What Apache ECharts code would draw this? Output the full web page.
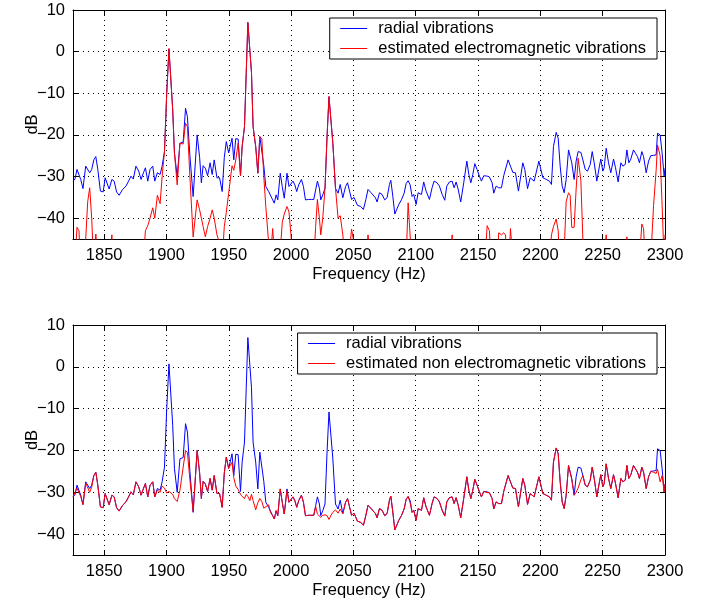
<!DOCTYPE html>
<html>
<head>
<meta charset="utf-8">
<script src="https://cdn.jsdelivr.net/npm/echarts@6/dist/echarts.min.js"></script>
<style>
  html, body { margin: 0; padding: 0; background: #fff; }
  #chart { width: 701px; height: 602px; }
</style>
</head>
<body>
<div id="chart"></div>
<script>
// Frequency samples (Hz) shared by all spectra
const freq = [
  1825.0,1826.6,1828.2,1829.8,1831.2,1833.0,1835.2,1836.8,1838.4,1840.0,
  1841.7,1843.3,1844.9,1847.0,1849.2,1850.8,1852.4,1854.0,1856.2,1858.0,
  1860.0,1862.0,1864.8,1867.5,1869.6,1871.5,1873.4,1875.5,1877.7,1879.6,
  1881.5,1883.1,1885.0,1886.8,1889.0,1890.6,1892.7,1894.9,1896.5,1898.4,
  1900.2,1902.0,1903.6,1905.0,1906.4,1908.6,1910.8,1913.4,1915.3,1916.8,
  1918.8,1921.4,1924.6,1926.6,1928.0,1929.4,1931.2,1933.0,1935.0,1936.7,
  1938.3,1940.5,1942.6,1944.7,1946.4,1948.0,1949.9,1952.6,1954.0,1955.6,
  1957.5,1959.4,1960.7,1962.6,1964.0,1965.3,1966.9,1968.2,1969.5,1971.6,
  1973.3,1974.9,1976.5,1978.1,1979.7,1982.0,1983.4,1985.2,1986.5,1988.0,
  1989.3,1991.3,1992.9,1994.5,1996.7,1998.3,1999.9,2001.5,2003.0,2004.5,
  2006.1,2008.3,2009.9,2011.5,2014.1,2016.5,2018.2,2019.7,2021.1,2022.7,
  2023.8,2025.4,2027.2,2028.9,2030.4,2032.0,2033.5,2035.6,2037.7,2039.4,
  2041.5,2043.7,2045.3,2046.9,2048.5,2050.5,2053.2,2055.9,2058.0,2060.0,
  2061.7,2063.9,2065.5,2067.7,2069.0,2070.9,2073.0,2075.1,2077.0,2078.9,
  2080.0,2081.6,2083.2,2084.8,2086.4,2088.5,2090.7,2092.3,2093.9,2095.5,
  2097.1,2098.4,2100.3,2101.9,2103.5,2104.6,2106.4,2108.3,2111.0,2113.1,
  2114.7,2117.1,2119.0,2121.2,2123.3,2124.9,2127.0,2129.2,2130.8,2132.4,
  2134.0,2136.1,2138.5,2141.0,2142.6,2144.2,2145.8,2147.4,2149.2,2151.1,
  2152.7,2154.6,2157.3,2159.1,2161.3,2162.6,2164.5,2166.6,2168.8,2170.6,
  2172.0,2174.1,2176.0,2177.9,2180.0,2182.4,2185.9,2187.5,2189.7,2191.8,
  2193.4,2195.0,2196.6,2198.8,2200.4,2202.0,2204.1,2205.7,2207.3,2208.9,
  2210.5,2212.7,2214.3,2215.9,2217.5,2219.1,2220.7,2222.6,2223.9,2225.2,
  2227.1,2228.7,2230.3,2232.5,2234.1,2236.0,2237.8,2240.0,2241.6,2243.2,
  2245.3,2247.4,2248.5,2250.1,2251.2,2252.8,2254.7,2256.5,2258.7,2260.3,
  2262.4,2264.6,2266.2,2268.1,2269.4,2271.0,2272.6,2274.7,2276.3,2277.9,
  2279.5,2281.4,2282.8,2284.9,2286.8,2288.6,2290.8,2292.9,2294.0,2296.1,
  2297.7,2299.3,2300.0
];

// Measured radial vibration spectrum (dB)
const radial = [
  -31.1,-30.6,-28.3,-28.2,-30.7,-32.9,-27.5,-27.1,-29.1,-28.3,
  -26.0,-25.2,-28.3,-33.5,-33.7,-30.3,-29.9,-33.0,-30.7,-31.1,
  -33.7,-34.5,-33.1,-32.3,-31.1,-29.9,-30.6,-27.5,-28.7,-30.7,
  -29.1,-27.9,-31.1,-28.3,-27.5,-31.1,-29.1,-29.5,-27.5,-24.0,
  -10.0,0.7,0.5,-14.0,-24.3,-30.0,-22.0,-21.7,-13.6,-15.6,
  -25.0,-34.8,-20.0,-25.4,-31.5,-27.4,-28.0,-29.8,-26.7,-29.5,
  -26.0,-30.3,-30.3,-33.6,-25.4,-21.6,-24.3,-20.8,-26.0,-20.9,
  -21.0,-29.8,-22.8,-18.0,-5.0,7.0,7.0,-5.0,-18.0,-22.8,
  -29.2,-20.4,-20.3,-27.4,-32.4,-33.6,-33.2,-35.6,-36.4,-34.4,
  -35.6,-29.2,-32.4,-35.2,-29.2,-32.4,-32.4,-31.1,-32.0,-33.6,
  -32.0,-30.7,-32.4,-35.6,-35.5,-35.5,-35.5,-33.2,-31.1,-32.8,
  -35.6,-34.4,-32.8,-20.0,-10.8,-10.8,-22.0,-32.8,-34.0,-31.9,
  -35.1,-32.4,-31.5,-33.5,-35.5,-35.0,-36.9,-37.2,-37.9,-35.5,
  -33.1,-33.8,-34.0,-35.1,-36.1,-33.9,-34.3,-35.6,-35.1,-31.9,
  -30.9,-34.7,-39.0,-38.6,-36.7,-35.6,-34.0,-31.7,-31.0,-32.0,
  -34.8,-34.3,-36.7,-33.9,-33.5,-34.3,-31.3,-33.5,-35.5,-32.7,
  -31.1,-31.5,-32.3,-34.3,-35.7,-32.3,-31.3,-31.1,-32.7,-31.3,
  -33.0,-36.1,-31.5,-26.3,-29.5,-31.5,-29.5,-26.9,-28.3,-29.9,
  -31.1,-29.8,-29.9,-30.1,-31.5,-34.0,-32.3,-32.7,-32.7,-29.8,
  -29.9,-26.0,-27.5,-29.0,-29.1,-33.5,-26.7,-28.3,-32.9,-30.3,
  -29.9,-31.1,-30.7,-26.3,-26.7,-30.3,-30.6,-30.3,-31.1,-31.9,
  -22.8,-19.4,-20.8,-27.5,-32.3,-33.9,-30.7,-23.6,-23.2,-26.7,
  -30.7,-26.3,-24.0,-24.2,-26.0,-28.3,-28.7,-27.1,-24.0,-26.7,
  -31.1,-27.5,-25.8,-28.7,-27.9,-23.2,-26.7,-29.1,-25.8,-27.9,
  -31.3,-26.7,-27.5,-27.1,-23.6,-26.7,-25.8,-23.6,-24.4,-25.2,
  -26.7,-24.0,-25.2,-29.1,-26.3,-25.0,-24.9,-24.8,-19.6,-20.0,
  -24.4,-29.9,-28.0
];

// Estimated electromagnetic part (dB); values below the axis floor are clipped
const electromagnetic = [
  -55,-50,-42.2,-43,-52,-55,-45,-36,-32.7,-40,
  -52,-43.8,-50,-55,-55,-55,-55,-55,-44,-55,
  -55,-55,-55,-55,-55,-55,-55,-55,-55,-55,
  -50,-43,-41.8,-40,-37.5,-40,-34.5,-36.5,-30,-24.0,
  -10.0,0.7,0.5,-14.0,-24.3,-32.0,-22.0,-22.2,-17.2,-18.0,
  -30,-44.5,-35.6,-38,-40,-42,-44.5,-42,-40,-38,
  -40,-44,-46,-50,-42,-38.6,-34,-27.4,-28.5,-26,
  -22,-29.8,-22.8,-18.0,-5.0,7.0,7.0,-5.0,-18.0,-22.8,
  -29.2,-20.4,-21.0,-30,-37.2,-46,-50,-42.5,-48,-55,
  -55,-48,-41,-39,-37.2,-38.5,-44,-52,-55,-55,
  -55,-55,-55,-55,-55,-55,-50,-42,-35.5,-40,
  -44,-40,-32.8,-20.0,-10.8,-10.8,-22.0,-32.8,-40,-39.4,
  -44,-52,-55,-48,-42.6,-46,-55,-55,-55,-50,
  -44,-50,-55,-55,-55,-55,-55,-55,-55,-55,
  -55,-55,-55,-55,-55,-55,-55,-50,-36.3,-36.7,
  -52,-55,-55,-55,-55,-55,-55,-55,-55,-55,
  -55,-55,-55,-55,-55,-55,-55,-44,-55,-55,
  -55,-55,-55,-55,-55,-55,-55,-55,-55,-55,
  -55,-55,-41.8,-43,-55,-55,-55,-43.5,-44,-43.5,
  -44,-55,-42.5,-50,-55,-55,-55,-55,-55,-55,
  -55,-55,-55,-55,-55,-55,-55,-55,-50,-44,
  -42,-40.2,-43,-55,-55,-48,-36,-33.9,-34.5,-42.2,
  -42.2,-33,-25.6,-31,-45,-55,-55,-55,-55,-55,
  -55,-55,-55,-55,-50,-44,-55,-55,-55,-55,
  -55,-55,-55,-55,-44.5,-55,-55,-55,-55,-55,
  -50,-41.4,-42.5,-55,-55,-50,-37,-28.5,-22.4,-25,
  -37,-50,-44
];

// Estimated non-electromagnetic part (dB)
const nonElectromagnetic = [
  -31.1,-30.8,-29.0,-28.6,-31.0,-33.0,-27.8,-27.4,-30.0,-28.8,
  -26.0,-25.2,-28.3,-33.5,-33.7,-30.3,-29.9,-33.0,-30.7,-31.1,
  -33.7,-34.5,-33.1,-32.3,-31.1,-29.9,-30.6,-27.5,-28.7,-30.7,
  -29.1,-27.9,-31.1,-28.3,-27.5,-31.1,-29.5,-30.0,-28.5,-29.0,
  -30.2,-29.8,-29.4,-30.5,-31.5,-32.2,-29.5,-24.0,-20.0,-20.5,
  -27.0,-34.6,-20.0,-25.4,-31.5,-27.4,-28.0,-29.8,-26.7,-29.5,
  -26.0,-30.3,-30.3,-33.6,-25.4,-21.6,-24.3,-22.8,-26.5,-28.5,
  -29.3,-30.5,-31.0,-31.5,-30.5,-31.0,-32.0,-30.5,-32.0,-34.2,
  -32.5,-31.5,-32.2,-33.8,-33.8,-33.0,-34.8,-35.6,-36.4,-34.4,
  -35.6,-29.2,-32.4,-35.2,-29.6,-32.4,-32.4,-31.1,-32.0,-33.6,
  -32.0,-30.7,-32.4,-35.6,-35.5,-35.5,-35.5,-33.4,-35.2,-35.4,
  -36.0,-35.5,-35.4,-35.6,-36.5,-35.5,-34.8,-34.2,-35.0,-34.0,
  -35.1,-32.4,-31.5,-33.5,-35.5,-35.0,-36.9,-37.2,-37.9,-35.5,
  -33.1,-33.8,-34.0,-35.1,-36.1,-33.9,-34.3,-35.6,-35.1,-31.9,
  -30.9,-34.7,-39.0,-38.6,-36.7,-35.6,-34.0,-31.7,-31.0,-32.5,
  -34.8,-34.3,-36.7,-33.9,-33.5,-34.3,-31.3,-33.5,-35.5,-32.7,
  -31.1,-31.5,-32.3,-34.3,-35.7,-32.3,-31.3,-31.1,-32.7,-31.3,
  -33.0,-36.1,-31.5,-26.3,-29.5,-31.5,-29.5,-26.9,-28.3,-29.9,
  -31.1,-29.8,-30.1,-30.1,-31.5,-34.0,-32.3,-32.7,-32.7,-29.8,
  -29.9,-26.0,-27.5,-29.0,-29.1,-33.5,-26.7,-28.3,-32.9,-30.3,
  -29.9,-31.1,-30.7,-26.3,-26.7,-30.3,-30.6,-30.3,-31.1,-31.9,
  -22.8,-19.4,-20.8,-27.5,-32.3,-33.9,-30.7,-23.6,-23.4,-27.0,
  -30.7,-30.0,-29.0,-27.0,-26.0,-28.3,-28.7,-27.1,-24.0,-26.7,
  -31.1,-27.5,-25.8,-28.7,-27.9,-23.2,-26.7,-29.1,-25.8,-27.9,
  -31.3,-26.7,-27.5,-27.1,-23.6,-26.7,-25.8,-23.6,-24.4,-25.2,
  -26.7,-24.0,-25.2,-29.1,-26.3,-25.0,-25.2,-25.5,-24.5,-27.5,
  -26.0,-29.9,-28.0
];

const xTicks = [1850, 1900, 1950, 2000, 2050, 2100, 2150, 2200, 2250, 2300];
const yTicks = [-40, -30, -20, -10, 0, 10];

const FONT = '"Liberation Sans", Arial, Helvetica, sans-serif';
const FS = 16.5;

function pairs(xs, ys) { return xs.map((x, i) => [x, ys[i]]); }

function xAxes(gi) {
  return [
    {
      gridIndex: gi, type: 'value', min: 1825, max: 2300,
      axisLine: { show: true, onZero: false, lineStyle: { color: '#000', width: 1 } },
      axisTick: { show: true, inside: true, length: 5, customValues: xTicks, lineStyle: { color: '#000' } },
      axisLabel: {
        customValues: xTicks, color: '#000', fontSize: FS, fontFamily: FONT, margin: 8,
        formatter: v => String(v)
      },
      splitLine: { show: true, lineStyle: { color: '#000', width: 1, type: [1, 4] } },
      name: 'Frequency (Hz)', nameLocation: 'middle', nameGap: 27,
      nameTextStyle: { color: '#000', fontSize: FS, fontFamily: FONT }
    },
    {
      gridIndex: gi, type: 'value', min: 1825, max: 2300, position: 'top',
      axisLine: { show: true, onZero: false, lineStyle: { color: '#000', width: 1 } },
      axisTick: { show: true, inside: true, length: 5, customValues: xTicks, lineStyle: { color: '#000' } },
      axisLabel: { show: false },
      splitLine: { show: false }
    }
  ];
}

function yAxes(gi) {
  return [
    {
      gridIndex: gi, type: 'value', min: -45, max: 10,
      axisLine: { show: true, onZero: false, lineStyle: { color: '#000', width: 1 } },
      axisTick: { show: true, inside: true, length: 5, customValues: yTicks, lineStyle: { color: '#000' } },
      axisLabel: {
        customValues: yTicks, color: '#000', fontSize: FS, fontFamily: FONT, margin: 8,
        formatter: v => String(v).replace('-', '\u2212')
      },
      splitLine: { show: true, lineStyle: { color: '#000', width: 1, type: [1, 4] } },
      name: 'dB', nameLocation: 'middle', nameGap: 32, nameRotate: 90, nameMoveOverlap: false,
      nameTextStyle: { color: '#000', fontSize: FS, fontFamily: FONT }
    },
    {
      gridIndex: gi, type: 'value', min: -45, max: 10, position: 'right',
      axisLine: { show: true, onZero: false, lineStyle: { color: '#000', width: 1 } },
      axisTick: { show: true, inside: true, length: 5, customValues: yTicks, lineStyle: { color: '#000' } },
      axisLabel: { show: false },
      splitLine: { show: false }
    }
  ];
}

function lineSeries(name, xi, yi, ys, color, z) {
  return {
    name, type: 'line', xAxisIndex: xi, yAxisIndex: yi,
    data: pairs(freq, ys), symbol: 'none', showSymbol: false, clip: true, z,
    lineStyle: { color, width: 1 }, itemStyle: { color }
  };
}

function legendBox(names, top) {
  return {
    data: names, orient: 'vertical', right: 44, top,
    backgroundColor: '#fff', borderColor: '#000', borderWidth: 1, borderRadius: 0,
    padding: [2, 11, 2, 10], itemWidth: 27, itemHeight: 14, itemGap: 3,
    selectedMode: false,
    // line-only key: hide the marker drawn on the legend line
    itemStyle: { opacity: 0, borderWidth: 0 },
    lineStyle: { width: 1 },
    textStyle: { color: '#000', fontSize: FS, fontFamily: FONT, padding: [0, 0, 0, 6] }
  };
}

const chart = echarts.init(document.getElementById('chart'), null, { renderer: 'canvas' });
chart.setOption({
  animation: false,
  backgroundColor: '#fff',
  grid: [
    { left: 73, top: 10, width: 592, height: 229 },
    { left: 73, top: 325, width: 592, height: 230 }
  ],
  xAxis: [...xAxes(0), ...xAxes(1)],
  yAxis: [...yAxes(0), ...yAxes(1)],
  legend: [
    legendBox(['radial vibrations', 'estimated electromagnetic vibrations'], 18),
    legendBox(['radial vibrations', 'estimated non electromagnetic vibrations'], 333)
  ],
  series: [
    lineSeries('radial vibrations', 0, 0, radial, '#0000ff', 2),
    lineSeries('estimated electromagnetic vibrations', 0, 0, electromagnetic, '#ff0000', 3),
    lineSeries('radial vibrations', 2, 2, radial, '#0000ff', 2),
    lineSeries('estimated non electromagnetic vibrations', 2, 2, nonElectromagnetic, '#ff0000', 3)
  ]
});
</script>
</body>
</html>
